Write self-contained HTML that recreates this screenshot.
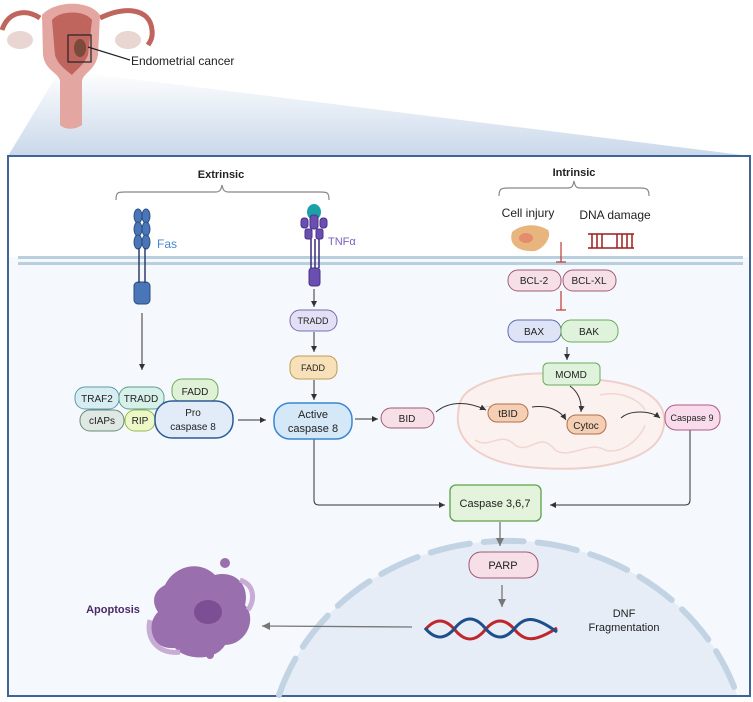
<!DOCTYPE html>
<html><head><meta charset="utf-8"><style>
html,body{margin:0;padding:0;background:#fff;width:753px;height:702px;overflow:hidden}
svg{display:block}
text{font-family:"Liberation Sans",sans-serif}
</style></head><body>
<svg width="753" height="702" viewBox="0 0 753 702" xmlns="http://www.w3.org/2000/svg">
<defs>
<linearGradient id="tg" x1="0" y1="0" x2="0" y2="1"><stop offset="0" stop-color="#fff"/><stop offset="1" stop-color="#c9d8ea"/></linearGradient>
<marker id="ar" markerWidth="8" markerHeight="8" refX="6" refY="3" orient="auto" markerUnits="userSpaceOnUse"><path d="M0,0 L6,3 L0,6 z" fill="#333"/></marker>
<marker id="ag" markerWidth="10" markerHeight="10" refX="8" refY="4" orient="auto" markerUnits="userSpaceOnUse"><path d="M0,0 L8,4 L0,8 z" fill="#777"/></marker>
</defs>
<polygon points="8,156 60,70 750,156" fill="url(#tg)"/>
<path d="M40,18 C25,8 8,12 2,30" stroke="#c0645e" stroke-width="5" fill="none"/>
<path d="M100,18 C125,6 150,8 152,30 C153,38 150,42 148,45" stroke="#c0645e" stroke-width="5" fill="none"/>
<ellipse cx="20" cy="40" rx="13" ry="9" fill="#e9d6d3"/>
<ellipse cx="128" cy="40" rx="13" ry="9" fill="#e9d6d3"/>
<path d="M42,15 C55,0 90,0 100,15 L98,55 C95,70 85,72 82,80 L82,125 C75,130 65,130 60,125 L60,80 C57,72 45,70 43,55 Z" fill="#e3a6a0"/>
<path d="M52,20 C60,10 85,10 92,20 L88,55 C84,65 76,70 72,75 C66,70 58,65 55,55 Z" fill="#c0645e"/>
<ellipse cx="80" cy="48" rx="6" ry="9" fill="#7a4a3a"/>
<rect x="68" y="35" width="23" height="27" fill="none" stroke="#222" stroke-width="1.2"/>
<line x1="88" y1="47" x2="130" y2="60" stroke="#222" stroke-width="1.2"/>
<text x="131" y="65" font-size="12" fill="#222">Endometrial cancer</text>
<rect x="8" y="156" width="742" height="540" fill="#f5f9fd" stroke="#3f6496" stroke-width="2"/>
<rect x="9" y="157" width="740" height="100" fill="#fff"/>
<path d="M279,695 A240,220 0 0 1 737,695 Z" fill="#e6edf6"/>
<path d="M279,695 A240,220 0 0 1 737,695" fill="none" stroke="#c2d3e4" stroke-width="6" stroke-dasharray="40,14" stroke-linecap="round"/>
<rect x="18" y="256" width="725" height="3" fill="#b8cfdf"/>
<rect x="18" y="262" width="725" height="3" fill="#b8cfdf"/>
<text x="221" y="178" font-size="11" font-weight="bold" text-anchor="middle" fill="#222">Extrinsic</text>
<path d="M116,200 C116,192 118,192 125,192 L215,192 C220,192 221,190 222,185 C223,190 224,192 229,192 L320,192 C327,192 329,192 329,200" fill="none" stroke="#888" stroke-width="1.2"/>
<text x="574" y="176" font-size="11" font-weight="bold" text-anchor="middle" fill="#222">Intrinsic</text>
<path d="M499,196 C499,189 501,188 508,188 L568,188 C572,188 573,186 574,181 C575,186 576,188 580,188 L640,188 C647,188 649,189 649,196" fill="none" stroke="#888" stroke-width="1.2"/>
<text x="528" y="217" font-size="12" text-anchor="middle" fill="#222">Cell injury</text>
<text x="615" y="219" font-size="12" text-anchor="middle" fill="#222">DNA damage</text>
<path d="M512,232 C520,225 535,222 548,230 C552,236 545,248 535,251 C520,252 508,246 512,232 Z" fill="#e9b57e"/>
<ellipse cx="526" cy="238" rx="7" ry="5" fill="#e58c6b"/>
<g stroke="#9c1d1d" stroke-width="1.5">
<line x1="588" y1="234" x2="634" y2="234"/><line x1="588" y1="248" x2="634" y2="248"/>
<line x1="592" y1="234" x2="592" y2="248"/><line x1="597" y1="234" x2="597" y2="248"/><line x1="602" y1="234" x2="602" y2="248"/><line x1="617" y1="234" x2="617" y2="248"/><line x1="622" y1="234" x2="622" y2="248"/><line x1="627" y1="234" x2="627" y2="248"/><line x1="632" y1="234" x2="632" y2="248"/>
</g>
<g fill="#4a76b8" stroke="#2b4f86" stroke-width="1">
<ellipse cx="138" cy="216" rx="4" ry="7"/><ellipse cx="146" cy="216" rx="4" ry="7"/>
<ellipse cx="138" cy="229" rx="4" ry="7"/><ellipse cx="146" cy="229" rx="4" ry="7"/>
<ellipse cx="138" cy="242" rx="4" ry="7"/><ellipse cx="146" cy="242" rx="4" ry="7"/>
<rect x="134" y="282" width="16" height="22" rx="4"/>
</g>
<g stroke="#2b3f6e" stroke-width="1.5"><line x1="139" y1="248" x2="139" y2="283"/><line x1="145" y1="248" x2="145" y2="283"/></g>
<text x="157" y="248" font-size="12" fill="#4a86d0">Fas</text>
<ellipse cx="314" cy="212" rx="7" ry="8" fill="#1aa1a8"/>
<g fill="#6a4eb0" stroke="#4a328a" stroke-width="1">
<rect x="310" y="215" width="8" height="14" rx="3"/><rect x="301" y="218" width="7" height="10" rx="3"/><rect x="320" y="218" width="7" height="10" rx="3"/>
<rect x="305" y="229" width="7" height="10" rx="2"/><rect x="316" y="229" width="7" height="10" rx="2"/>
<rect x="309" y="268" width="11" height="18" rx="3"/>
</g>
<g stroke="#3b2a7a" stroke-width="1.5"><line x1="311" y1="239" x2="311" y2="268"/><line x1="315" y1="239" x2="315" y2="268"/><line x1="319" y1="239" x2="319" y2="268"/></g>
<text x="328" y="245" font-size="11" fill="#7a5cc0">TNFα</text>
<path d="M470,390 C500,370 560,370 600,380 C650,385 670,405 663,430 C655,460 600,472 540,468 C480,465 455,440 458,415 C459,400 463,395 470,390 Z" fill="#fbf1ef" stroke="#efcfca" stroke-width="2"/>
<path d="M480,410 C490,400 500,415 510,405 M475,440 C490,450 500,430 515,445 C530,455 540,430 555,450 C570,460 590,440 605,450 C620,455 640,440 645,425 M600,395 C620,390 640,400 645,410" fill="none" stroke="#f1d6d1" stroke-width="1.5"/>
<g stroke="#333" stroke-width="1" fill="none">
<line x1="142" y1="313" x2="142" y2="370" marker-end="url(#ar)"/>
<line x1="314" y1="289" x2="314" y2="307" marker-end="url(#ar)"/>
<line x1="314" y1="332" x2="314" y2="352" marker-end="url(#ar)"/>
<line x1="314" y1="380" x2="314" y2="400" marker-end="url(#ar)"/>
<line x1="238" y1="420" x2="266" y2="420" marker-end="url(#ar)"/>
<line x1="355" y1="419" x2="378" y2="419" marker-end="url(#ar)"/>
<path d="M436,412 C450,400 470,402 486,410" marker-end="url(#ar)"/>
<path d="M532,407 C548,405 560,410 566,420" marker-end="url(#ar)"/>
<path d="M621,418 C630,410 650,410 660,418" marker-end="url(#ar)"/>
<path d="M570,386 C578,392 582,400 581,412" marker-end="url(#ar)"/>
<line x1="567" y1="347" x2="567" y2="360" marker-end="url(#ar)"/>
<path d="M314,439 L314,500 Q314,505 319,505 L445,505" marker-end="url(#ar)"/>
<path d="M690,430 L690,500 Q690,505 685,505 L550,505" marker-end="url(#ar)"/>
</g>
<g stroke="#777" stroke-width="1.3" fill="none">
<line x1="500" y1="522" x2="500" y2="546" marker-end="url(#ag)"/>
<line x1="502" y1="585" x2="502" y2="607" marker-end="url(#ag)"/>
<line x1="412" y1="627" x2="262" y2="626" marker-end="url(#ag)"/>
</g>
<g stroke="#c0392b" stroke-width="1.2">
<line x1="561" y1="242" x2="561" y2="262"/><line x1="556" y1="262" x2="566" y2="262"/>
<line x1="561" y1="291" x2="561" y2="310"/><line x1="556" y1="310" x2="566" y2="310"/>
</g>
<g font-size="10" text-anchor="middle" fill="#222">
<rect x="508" y="270" width="53" height="21" rx="10" fill="#f6dfe6" stroke="#a05a70"/><text x="534" y="284">BCL-2</text>
<rect x="563" y="270" width="53" height="21" rx="10" fill="#f6dfe6" stroke="#a05a70"/><text x="589" y="284">BCL-XL</text>
<rect x="508" y="320" width="53" height="22" rx="10" fill="#dfe3f6" stroke="#5a6cb0"/><text x="534" y="335">BAX</text>
<rect x="561" y="320" width="57" height="22" rx="10" fill="#dff3dc" stroke="#6aaa5a"/><text x="589" y="335">BAK</text>
<rect x="290" y="310" width="47" height="21" rx="10" fill="#e3dff4" stroke="#7a6ab0"/><text x="313" y="324" font-size="9">TRADD</text>
<rect x="290" y="356" width="47" height="23" rx="9" fill="#f8e1b8" stroke="#c09a5a"/><text x="313" y="371" font-size="9">FADD</text>
<rect x="172" y="379" width="46" height="23" rx="10" fill="#dff1d6" stroke="#6aaa5a"/><text x="195" y="395">FADD</text>
<rect x="75" y="387" width="44" height="22" rx="10" fill="#d8edf2" stroke="#5a9ab0"/><text x="97" y="402">TRAF2</text>
<rect x="119" y="387" width="45" height="22" rx="10" fill="#d8f0ea" stroke="#5aa08a"/><text x="141" y="402">TRADD</text>
<rect x="80" y="410" width="44" height="21" rx="10" fill="#dfe8e3" stroke="#6a8a7a"/><text x="102" y="424">cIAPs</text>
<rect x="125" y="410" width="30" height="21" rx="10" fill="#eef7c8" stroke="#9aba4a"/><text x="140" y="424">RIP</text>
<rect x="155" y="401" width="78" height="37" rx="17" fill="#e2ecf8" stroke="#2b5b96" stroke-width="1.5"/><text x="193" y="416">Pro</text><text x="193" y="430">caspase 8</text>
<rect x="274" y="403" width="78" height="36" rx="16" fill="#d5e8f8" stroke="#3a86d0" stroke-width="1.5"/><text x="313" y="418" font-size="11">Active</text><text x="313" y="432" font-size="11">caspase 8</text>
<rect x="381" y="408" width="53" height="20" rx="10" fill="#f6dfe6" stroke="#a05a70"/><text x="407" y="422">BID</text>
<rect x="543" y="363" width="57" height="22" rx="5" fill="#dff3dc" stroke="#6aaa5a"/><text x="571" y="378">MOMD</text>
<rect x="488" y="404" width="40" height="18" rx="9" fill="#f4cfb4" stroke="#b0704a"/><text x="508" y="417">tBID</text>
<rect x="567" y="415" width="39" height="19" rx="9" fill="#f4cfb4" stroke="#b0704a"/><text x="586" y="429">Cytoc</text>
<rect x="665" y="405" width="55" height="25" rx="11" fill="#f8dceb" stroke="#b05a8a"/><text x="692" y="421" font-size="9">Caspase 9</text>
<rect x="450" y="485" width="91" height="36" rx="6" fill="#e4f4dc" stroke="#5aa04a" stroke-width="1.3"/><text x="495" y="507" font-size="11">Caspase 3,6,7</text>
<rect x="469" y="552" width="69" height="26" rx="12" fill="#f6dfe6" stroke="#a05a70"/><text x="503" y="569" font-size="11">PARP</text>
</g>
<path d="M425,630 C435,618 445,618 455,630 S475,642 485,630 S505,618 515,630 S535,642 557,628" fill="none" stroke="#c0262b" stroke-width="3"/>
<path d="M425,628 C435,640 445,640 455,628 S475,616 485,628 S505,640 515,628 S535,616 557,632" fill="none" stroke="#1d4f8c" stroke-width="3"/>
<text x="624" y="617" font-size="11" text-anchor="middle" fill="#222">DNF</text>
<text x="624" y="631" font-size="11" text-anchor="middle" fill="#222">Fragmentation</text>
<path d="M165,585 C175,565 200,560 215,575 C235,570 250,585 245,605 C258,620 245,645 225,645 C215,662 185,660 175,648 C150,650 145,625 158,612 C150,600 155,590 165,585 Z" fill="#9a6fae"/>
<path d="M150,620 C145,640 160,655 180,652 M240,580 C255,585 255,600 248,610" fill="none" stroke="#c8acd6" stroke-width="5"/>
<ellipse cx="208" cy="612" rx="14" ry="12" fill="#7c4f94"/>
<circle cx="225" cy="563" r="5" fill="#9a6fae"/><circle cx="210" cy="655" r="4" fill="#9a6fae"/><circle cx="162" cy="600" r="4" fill="#9a6fae"/>
<text x="113" y="613" font-size="11" font-weight="bold" text-anchor="middle" fill="#4a2a6a">Apoptosis</text>
</svg>
</body></html>
